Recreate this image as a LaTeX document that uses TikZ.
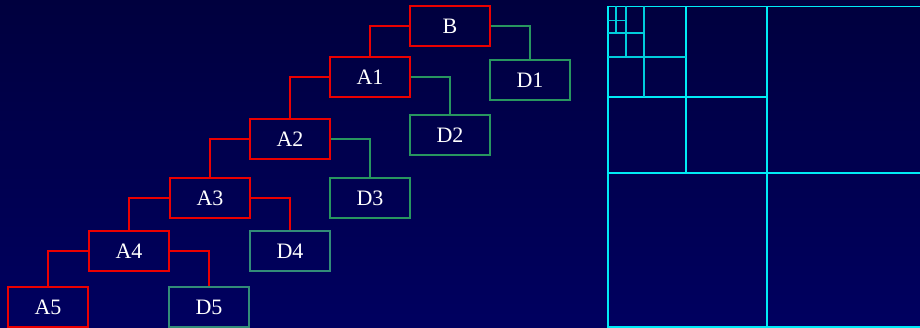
\documentclass[tikz,border=0pt]{standalone}
\usepackage{fontspec}
\setmainfont{Liberation Serif}
\begin{document}
\begin{tikzpicture}[x=1pt,y=-1pt,
  tbox/.style={draw, minimum width=80pt, minimum height=40pt, inner sep=0pt,
    line width=1.1pt, text=white, font=\fontsize{22}{25}\selectfont},
  abox/.style={tbox, draw=nodered},
  dbox/.style={tbox, draw=nodegreen},
  tbox2/.style={tbox, draw=nodeteal},
  redlink/.style={draw=nodered, line width=1.1pt},
  greenlink/.style={draw=nodegreen, line width=1.1pt},
  gridline/.style={draw=gridcyan, line width=1.7pt},
  gridline2/.style={draw=gridcyan2, line width=1.7pt}]
\definecolor{nodered}{RGB}{235,0,0}
\definecolor{nodegreen}{RGB}{40,150,95}
\definecolor{nodeteal}{RGB}{50,140,120}
\definecolor{gridcyan}{RGB}{0,235,245}
\definecolor{gridcyan2}{RGB}{0,205,220}
\definecolor{bgtop}{RGB}{0,0,62}
\definecolor{bgbot}{RGB}{0,0,96}
\shade[top color=bgtop, bottom color=bgbot] (0,0) rectangle (920,328);
\useasboundingbox (0,0) rectangle (920,328);

% tree nodes
\node[abox] (B)  at (450,26)  {B};
\node[abox] (A1) at (370,77)  {A1};
\node[dbox] (D1) at (530,80)  {D1};
\node[abox] (A2) at (290,139) {A2};
\node[dbox] (D2) at (450,135) {D2};
\node[abox] (A3) at (210,198) {A3};
\node[dbox] (D3) at (370,198) {D3};
\node[abox] (A4) at (129,251) {A4};
\node[tbox2] (D4) at (290,251) {D4};
\node[abox] (A5) at (48,307)  {A5};
\node[tbox2] (D5) at (209,307) {D5};

% connectors
\draw[redlink] (B.west) -| (A1.north);
\draw[greenlink] (B.east) -| (D1.north);
\draw[redlink] (A1.west) -| (A2.north);
\draw[greenlink] (A1.east) -| (D2.north);
\draw[redlink] (A2.west) -| (A3.north);
\draw[greenlink] (A2.east) -| (D3.north);
\draw[redlink] (A3.west) -| (A4.north);
\draw[redlink] (A3.east) -| (D4.north);
\draw[redlink] (A4.west) -| (A5.north);
\draw[redlink] (A4.east) -| (D5.north);

% quadtree grid
\draw[gridline] (920,6.5) -- (608,6.5) -- (608,327) -- (920,327);
\draw[gridline] (767,6.5) -- (767,327);
\draw[gridline] (608,173) -- (920,173);
\draw[gridline] (686,6.5) -- (686,173);
\draw[gridline] (608,97) -- (767,97);
\draw[gridline2] (644,6.5) -- (644,97);
\draw[gridline2] (608,57) -- (686,57);
\draw[gridline2] (626,6.5) -- (626,57);
\draw[gridline2] (608,33) -- (644,33);
\draw[gridline2] (616,6.5) -- (616,33);
\draw[gridline2] (608,20.5) -- (626,20.5);
\end{tikzpicture}
\end{document}
